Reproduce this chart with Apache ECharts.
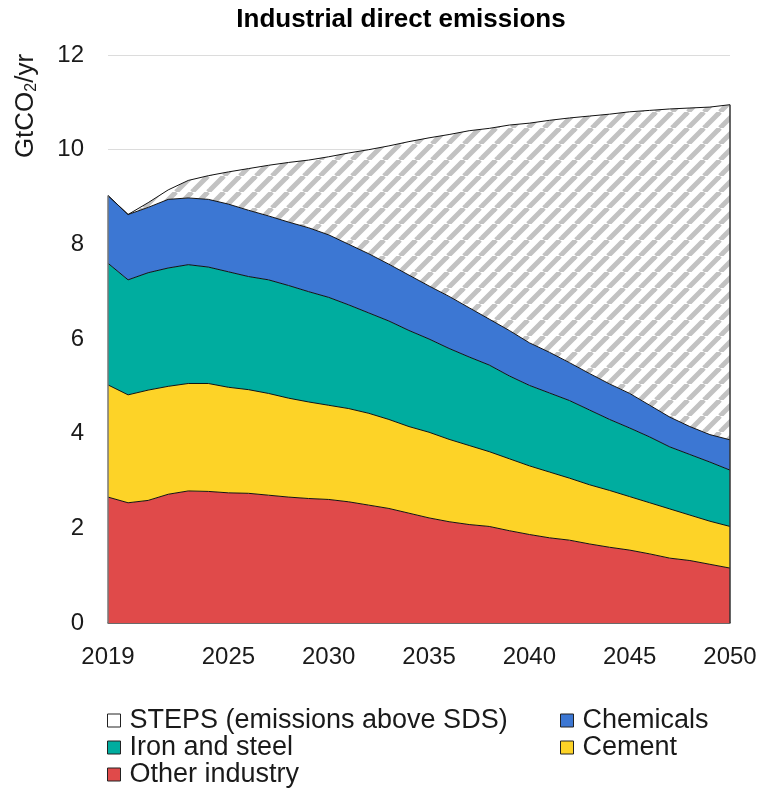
<!DOCTYPE html>
<html>
<head>
<meta charset="utf-8">
<script src="https://cdn.jsdelivr.net/npm/echarts@6/dist/echarts.min.js"></script>
<style>
  html, body { margin: 0; padding: 0; background: #fff; }
  #chart { width: 764px; height: 793px; }
</style>
</head>
<body>
<div id="chart"></div>
<script>
// years 2019..2050
const years = []
for (let y = 2019; y <= 2050; y++) years.push(String(y))

// GtCO2/yr
const otherIndustry = [2.66, 2.54, 2.59, 2.72, 2.79, 2.78, 2.75, 2.74, 2.70, 2.66, 2.63, 2.61, 2.56, 2.49, 2.42, 2.32,
  2.22, 2.14, 2.08, 2.04, 1.95, 1.87, 1.80, 1.75, 1.67, 1.60, 1.54, 1.46, 1.37, 1.32, 1.24, 1.16]
const cement = [2.37, 2.28, 2.33, 2.28, 2.27, 2.28, 2.23, 2.19, 2.15, 2.09, 2.04, 1.99, 1.97, 1.94, 1.88, 1.83,
  1.81, 1.74, 1.67, 1.58, 1.52, 1.45, 1.39, 1.31, 1.25, 1.20, 1.13, 1.08, 1.04, 0.96, 0.91, 0.88]
const ironSteel = [2.57, 2.43, 2.48, 2.50, 2.51, 2.46, 2.44, 2.39, 2.40, 2.38, 2.33, 2.28, 2.19, 2.12, 2.08, 2.03,
  1.97, 1.92, 1.87, 1.83, 1.75, 1.70, 1.67, 1.64, 1.58, 1.50, 1.45, 1.39, 1.31, 1.28, 1.25, 1.19]
const chemicals = [1.43, 1.38, 1.38, 1.45, 1.41, 1.43, 1.43, 1.40, 1.35, 1.34, 1.35, 1.32, 1.28, 1.25, 1.20, 1.17,
  1.12, 1.10, 1.04, 0.97, 0.96, 0.90, 0.86, 0.80, 0.77, 0.75, 0.73, 0.67, 0.63, 0.59, 0.58, 0.64]
const stepsAbove = [0, 0, 0.10, 0.20, 0.37, 0.50, 0.68, 0.88, 1.07, 1.26, 1.43, 1.65, 1.93, 2.20, 2.50, 2.82,
  3.13, 3.42, 3.74, 4.03, 4.34, 4.64, 4.90, 5.17, 5.44, 5.70, 5.95, 6.23, 6.51, 6.73, 6.92, 7.08]

const labelYears = ['2019', '2025', '2030', '2035', '2040', '2045', '2050']

const FONT = 'Liberation Sans, Arial, sans-serif'

// diagonal hatch tile for the STEPS area
const makeHatch = () => {
  const s = 16
  const c = document.createElement('canvas')
  c.width = s
  c.height = s
  const ctx = c.getContext('2d')
  ctx.fillStyle = '#fff'
  ctx.fillRect(0, 0, s, s)
  ctx.strokeStyle = '#c2c2c2'
  ctx.lineWidth = 5
  for (const k of [-s, 0, s]) {
    ctx.beginPath()
    ctx.moveTo(k, s)
    ctx.lineTo(k + s, 0)
    ctx.stroke()
  }
  return c
}

const first = 0
const last = years.length - 1
const totalAt = i => otherIndustry[i] + cement[i] + ironSteel[i] + chemicals[i] + stepsAbove[i]

const areaSeries = (name, data, color, area) => ({
  name,
  type: 'line',
  stack: 'total',
  data,
  symbol: 'none',
  smooth: false,
  itemStyle: { color },
  lineStyle: { color: '#111', width: 1 },
  areaStyle: { color: area || color, opacity: 1 },
  emphasis: { disabled: true }
})

const chart = echarts.init(document.getElementById('chart'))

const stepsSeries = areaSeries('STEPS (emissions above SDS)', stepsAbove, '#ffffff',
  { image: makeHatch(), repeat: 'repeat' })
stepsSeries.markLine = {
  silent: true,
  symbol: 'none',
  label: { show: false },
  lineStyle: { color: '#333', width: 1.5, type: 'solid' },
  data: [
    [{ coord: [years[last], 0] }, { coord: [years[last], totalAt(last)] }],
    [{ coord: [years[first], 0], lineStyle: { color: '#777', width: 1.5 } },
     { coord: [years[first], totalAt(first)] }]
  ]
}

const legendBase = {
  orient: 'vertical',
  top: 702,
  icon: 'rect',
  itemWidth: 13,
  itemHeight: 13,
  itemGap: 0,
  selectedMode: false,
  itemStyle: { borderColor: '#222', borderWidth: 1 },
  textStyle: {
    fontFamily: FONT,
    fontSize: 27,
    lineHeight: 27,
    color: '#1a1a1a',
    padding: [0, 0, 0, 4]
  }
}

chart.setOption({
  animation: false,
  title: {
    text: 'Industrial direct emissions',
    left: 396,
    top: 2,
    textAlign: 'center',
    textStyle: {
      fontFamily: FONT,
      fontSize: 26,
      fontWeight: 'bold',
      color: '#000'
    }
  },
  graphic: [{
    type: 'text',
    x: 26,
    y: 106,
    rotation: Math.PI / 2,
    style: {
      text: '{a|GtCO}{s|2}{a|/yr}',
      align: 'center',
      verticalAlign: 'middle',
      rich: {
        a: { fontFamily: FONT, fontSize: 26, lineHeight: 28, fill: '#1a1a1a' },
        s: { fontFamily: FONT, fontSize: 16, verticalAlign: 'bottom', fill: '#1a1a1a' }
      }
    }
  }],
  legend: [
    Object.assign({}, legendBase, {
      left: 102,
      data: ['STEPS (emissions above SDS)', 'Iron and steel', 'Other industry']
    }),
    Object.assign({}, legendBase, {
      left: 555,
      data: ['Chemicals', 'Cement']
    })
  ],
  grid: { left: 108, right: 34, top: 55, bottom: 170 },
  xAxis: {
    type: 'category',
    boundaryGap: false,
    data: years,
    axisLine: { lineStyle: { color: '#444', width: 1.5 } },
    axisTick: { show: false },
    axisLabel: {
      interval: (idx, val) => labelYears.includes(val),
      fontFamily: FONT,
      fontSize: 24,
      color: '#1a1a1a',
      margin: 22
    },
    splitLine: { show: false }
  },
  yAxis: {
    type: 'value',
    min: 0,
    max: 12,
    interval: 2,
    axisLine: { show: false },
    axisTick: { show: false },
    axisLabel: {
      fontFamily: FONT,
      fontSize: 24,
      color: '#1a1a1a',
      margin: 24
    },
    splitLine: { lineStyle: { color: '#dcdcdc', width: 1 } }
  },
  series: [
    areaSeries('Other industry', otherIndustry, '#e04a4a'),
    areaSeries('Cement', cement, '#fdd327'),
    areaSeries('Iron and steel', ironSteel, '#00ad9f'),
    areaSeries('Chemicals', chemicals, '#3c77d3'),
    stepsSeries
  ]
})
</script>
</body>
</html>
